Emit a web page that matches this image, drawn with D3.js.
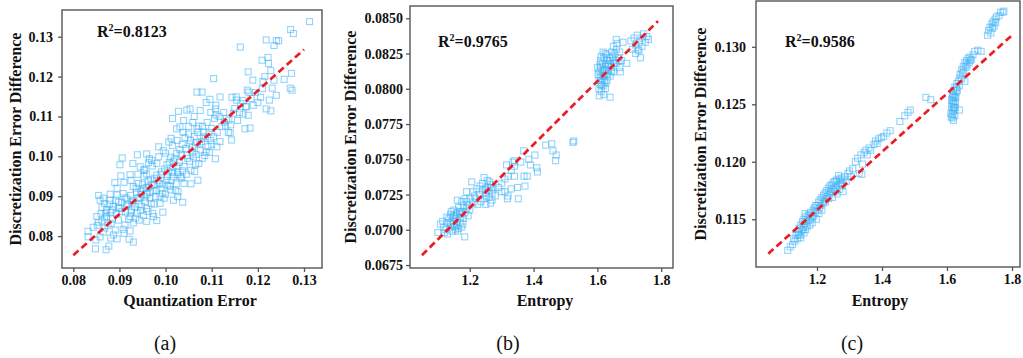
<!DOCTYPE html>
<html>
<head>
<meta charset="utf-8">
<script src="https://cdn.jsdelivr.net/npm/d3@7"></script>
<style>
  body { margin: 0; background: #fff; }
  svg { display: block; }
  svg text { font-family: "Liberation Serif", "DejaVu Serif", serif; fill: #111; }
  .axis path, .axis line { stroke: #555; stroke-width: 1.3; }
  .axis text { font-size: 14px; font-weight: bold; }
  .frame { fill: none; stroke: #555; stroke-width: 1.4; }
  .pt { fill: none; stroke: #3cb0f5; stroke-opacity: 0.55; stroke-width: 1.1; }
  .fit { stroke: #ec1c24; stroke-width: 2.7; stroke-dasharray: 7 4; fill: none; }
</style>
</head>
<body>
<svg id="chart" width="1023" height="358"></svg>
<script>
// panel (a): quantization error vs discretization error difference
const pointsA = [
  [0.1312,0.1338],[0.1271,0.1318],[0.1277,0.1308],[0.1218,0.1292],[0.1240,0.1290],[0.1245,0.1290],
  [0.1235,0.1278],[0.1162,0.1274],[0.1222,0.1248],[0.1223,0.1233],[0.1209,0.1241],[0.1228,0.1215],
  [0.1179,0.1212],[0.1273,0.1208],[0.1257,0.1193],[0.1235,0.1191],[0.1189,0.1191],[0.1104,0.1195],
  [0.1211,0.1188],[0.1270,0.1171],[0.1274,0.1166],[0.1231,0.1171],[0.1177,0.1166],[0.1180,0.1161],
  [0.1068,0.1161],[0.1079,0.1161],[0.1118,0.1149],[0.1144,0.1148],[0.1206,0.1148],[0.1225,0.1141],
  [0.1240,0.1153],[0.1153,0.1149],[0.1096,0.1143],[0.1154,0.1141],[0.1046,0.1116],[0.1053,0.1119],
  [0.1109,0.1128],[0.1163,0.1133],[0.1174,0.1124],[0.1190,0.1128],[0.1218,0.1119],[0.1228,0.1114],
  [0.1028,0.1113],[0.1015,0.1095],[0.1108,0.1119],[0.1109,0.1104],[0.1179,0.1103],[0.1168,0.1106],
  [0.1183,0.1071],[0.1172,0.1069],[0.1147,0.1108],[0.1137,0.1091],[0.1127,0.1086],[0.1130,0.1076],
  [0.1141,0.1079],[0.1140,0.1059],[0.1083,0.1061],[0.1059,0.1085],[0.1072,0.1076],[0.1068,0.1069],
  [0.1031,0.1074],[0.1024,0.1069],[0.1039,0.1090],[0.1082,0.1049],[0.1118,0.1037],[0.1143,0.1041],
  [0.1104,0.1049],[0.1078,0.1037],[0.1042,0.1047],[0.1007,0.1036],[0.1052,0.1031],[0.1092,0.1024],
  [0.1111,0.1024],[0.1085,0.1002],[0.1108,0.0994],[0.1075,0.1016],[0.1068,0.1034],[0.0985,0.1024],
  [0.0995,0.1014],[0.1015,0.1027],[0.1024,0.1007],[0.1031,0.1017],[0.1046,0.1002],[0.1060,0.0999],
  [0.1072,0.0982],[0.1052,0.0988],[0.1011,0.0998],[0.1017,0.0988],[0.0959,0.1006],[0.0939,0.1004],
  [0.0965,0.0994],[0.0981,0.0982],[0.1003,0.0979],[0.1024,0.0976],[0.1037,0.0964],[0.1027,0.0954],
  [0.1033,0.0949],[0.1017,0.0949],[0.1007,0.0961],[0.1063,0.0962],[0.1070,0.0940],[0.0906,0.0996],
  [0.0901,0.0979],[0.0929,0.0982],[0.0903,0.0951],[0.0923,0.0954],[0.0890,0.0934],[0.0953,0.0967],
  [0.0959,0.0956],[0.0971,0.0976],[0.0991,0.0961],[0.0981,0.0953],[0.0968,0.0941],[0.0987,0.0932],
  [0.1005,0.0927],[0.1023,0.0931],[0.1040,0.0932],[0.1055,0.0931],[0.1010,0.0916],[0.1027,0.0911],
  [0.0993,0.0907],[0.0973,0.0913],[0.0941,0.0932],[0.0930,0.0924],[0.0952,0.0919],[0.0959,0.0905],
  [0.0978,0.0899],[0.0997,0.0895],[0.1017,0.0890],[0.1037,0.0885],[0.1026,0.0899],[0.0988,0.0882],
  [0.0994,0.0860],[0.0969,0.0882],[0.0956,0.0887],[0.0945,0.0897],[0.0937,0.0910],[0.0908,0.0907],
  [0.0895,0.0903],[0.0916,0.0893],[0.0898,0.0885],[0.0927,0.0885],[0.0933,0.0874],[0.0946,0.0864],
  [0.0959,0.0869],[0.0972,0.0857],[0.0952,0.0852],[0.0938,0.0857],[0.0923,0.0849],[0.0913,0.0860],
  [0.0901,0.0870],[0.0887,0.0874],[0.0880,0.0890],[0.0872,0.0866],[0.0858,0.0890],[0.0855,0.0902],
  [0.0868,0.0882],[0.0894,0.0857],[0.0885,0.0843],[0.0872,0.0849],[0.0860,0.0856],[0.0851,0.0849],
  [0.0862,0.0838],[0.0852,0.0827],[0.0875,0.0827],[0.0891,0.0815],[0.0908,0.0817],[0.0887,0.0803],
  [0.0881,0.0795],[0.0895,0.0793],[0.0910,0.0807],[0.0923,0.0813],[0.0930,0.0785],[0.0921,0.0792],
  [0.0943,0.0840],[0.0930,0.0833],[0.0959,0.0837],[0.0981,0.0839],[0.0974,0.0849],[0.0832,0.0812],
  [0.0832,0.0798],[0.0849,0.0790],[0.0848,0.0768],[0.0871,0.0766],[0.0877,0.0775],[0.0843,0.0822],
  [0.0865,0.0810],[0.0858,0.0798],[0.0963,0.0984],[0.0945,0.0974],[0.0985,0.0999],[0.0962,0.0921],
  [0.0975,0.0928],[0.0990,0.0920],[0.0948,0.0905],[0.0966,0.0895],[0.1002,0.0940],[0.1015,0.0960],
  [0.1058,0.1010],[0.1088,0.1012],[0.1098,0.1040],[0.1050,0.1056],[0.1036,0.1030],[0.0915,0.0875],
  [0.0905,0.0862],[0.0926,0.0866],[0.0942,0.0880],[0.0880,0.0860],[0.0868,0.0846],[0.0953,0.0950],
  [0.0862,0.0872],[0.0870,0.0858],[0.0878,0.0880],[0.0884,0.0866],[0.0892,0.0890],[0.0898,0.0870],
  [0.0905,0.0885],[0.0912,0.0896],[0.0918,0.0880],[0.0924,0.0902],[0.0930,0.0890],[0.0936,0.0920],
  [0.0940,0.0895],[0.0946,0.0912],[0.0950,0.0930],[0.0955,0.0898],[0.0958,0.0922],[0.0962,0.0938],
  [0.0966,0.0910],[0.0970,0.0930],[0.0976,0.0945],[0.0980,0.0915],[0.0984,0.0940],[0.0990,0.0955],
  [0.0994,0.0930],[0.0998,0.0968],[0.1004,0.0950],[0.1008,0.0985],[0.1012,0.0940],[0.1016,0.0972],
  [0.1020,0.0995],[0.1026,0.0960],[0.1030,0.0985],[0.1034,0.1005],[0.1040,0.0975],[0.1044,0.1020],
  [0.1048,0.0995],[0.1054,0.1040],[0.1058,0.1022],[0.1062,0.1050],[0.1066,0.1005],[0.1070,0.1060],
  [0.1074,0.1030],[0.1080,0.1075],[0.1086,0.1045],[0.1090,0.1085],[0.1094,0.1060],[0.1100,0.1070],
  [0.1106,0.1095],[0.1112,0.1060],[0.1116,0.1100],[0.1122,0.1075],[0.1126,0.1110],[0.1132,0.1095],
  [0.1136,0.1060],[0.1150,0.1120],[0.1156,0.1090],[0.1160,0.1110],[0.1168,0.1140],[0.1175,0.1125],
  [0.1185,0.1145],[0.1195,0.1160],[0.1200,0.1135],[0.1210,0.1170],[0.1215,0.1200],[0.0865,0.0895],
  [0.0880,0.0905],[0.0895,0.0920],[0.0910,0.0935],[0.0925,0.0940],[0.0940,0.0955],[0.0955,0.0965],
  [0.0970,0.0990],[0.0925,0.0860],[0.0935,0.0845],[0.0948,0.0875],[0.0962,0.0862],[0.0975,0.0880],
  [0.0988,0.0900],[0.1000,0.0905],[0.1010,0.0925],[0.1022,0.0915],[0.1035,0.0945],[0.1045,0.0955],
  [0.1055,0.0965],[0.1065,0.0980],[0.1080,0.0995],[0.1095,0.1010],[0.1100,0.1030],[0.1000,0.1008],
  [0.1012,0.1045],[0.1025,0.1040],[0.1038,0.1060],[0.1050,0.1075],[0.1062,0.1100],[0.1075,0.1115],
  [0.1088,0.1135],[0.1098,0.1110],[0.0855,0.0835],[0.0868,0.0820],[0.0882,0.0832],[0.0898,0.0840],
  [0.0912,0.0828],[0.0920,0.0842]
];
const fitA = [[0.080, 0.0752], [0.130, 0.1268]];

// panel (b): entropy vs discretization error difference
const pointsB = [
  [1.100,0.0698],[1.108,0.0704],[1.118,0.0702],[1.115,0.0706],[1.125,0.0700],[1.130,0.0697],
  [1.130,0.0705],[1.135,0.0708],[1.140,0.0702],[1.140,0.0711],[1.145,0.0699],[1.145,0.0706],
  [1.150,0.0704],[1.150,0.0710],[1.150,0.0714],[1.155,0.0700],[1.155,0.0708],[1.160,0.0703],
  [1.160,0.0712],[1.160,0.0706],[1.165,0.0716],[1.165,0.0701],[1.170,0.0709],[1.170,0.0705],
  [1.175,0.0713],[1.175,0.0702],[1.180,0.0708],[1.180,0.0717],[1.185,0.0712],[1.184,0.0695],
  [1.190,0.0715],[1.190,0.0720],[1.195,0.0710],[1.200,0.0722],[1.200,0.0714],[1.210,0.0727],
  [1.210,0.0719],[1.215,0.0724],[1.220,0.0722],[1.225,0.0718],[1.230,0.0725],[1.235,0.0720],
  [1.240,0.0728],[1.240,0.0733],[1.245,0.0722],[1.245,0.0737],[1.250,0.0726],[1.250,0.0718],
  [1.255,0.0730],[1.255,0.0735],[1.260,0.0723],[1.260,0.0728],[1.265,0.0719],[1.265,0.0732],
  [1.270,0.0726],[1.270,0.0721],[1.275,0.0729],[1.280,0.0724],[1.206,0.0734],[1.185,0.0722],
  [1.175,0.0720],[1.190,0.0727],[1.161,0.0721],[1.222,0.0729],[1.140,0.0705],[1.148,0.0709],
  [1.158,0.0711],[1.168,0.0713],[1.152,0.0702],[1.162,0.0699],[1.172,0.0711],[1.142,0.0713],
  [1.128,0.0709],[1.120,0.0698],[1.178,0.0704],[1.195,0.0717],[1.232,0.0731],[1.252,0.0724],
  [1.262,0.0734],[1.248,0.0729],[1.268,0.0730],
  [1.290,0.0730],[1.300,0.0733],[1.300,0.0727],[1.310,0.0736],[1.320,0.0738],[1.320,0.0724],
  [1.318,0.0722],[1.330,0.0742],[1.330,0.0729],[1.340,0.0745],[1.340,0.0749],[1.350,0.0730],
  [1.352,0.0722],[1.360,0.0748],[1.370,0.0738],[1.369,0.0756],[1.380,0.0738],[1.373,0.0731],
  [1.385,0.0750],[1.390,0.0746],[1.404,0.0753],[1.410,0.0744],[1.412,0.0741],[1.315,0.0746],
  [1.335,0.0748],[1.340,0.0738],[1.310,0.0727],
  [1.438,0.0760],[1.457,0.0761],[1.461,0.0756],[1.471,0.0753],[1.469,0.0749],[1.526,0.0763],[1.523,0.0762],
  [1.605,0.0800],[1.605,0.0806],[1.605,0.0812],[1.610,0.0803],[1.610,0.0809],[1.610,0.0815],
  [1.610,0.0820],[1.612,0.0798],[1.615,0.0806],[1.615,0.0812],[1.615,0.0818],[1.618,0.0802],
  [1.620,0.0796],[1.620,0.0809],[1.620,0.0814],[1.620,0.0822],[1.622,0.0805],[1.625,0.0800],
  [1.625,0.0817],[1.628,0.0811],[1.630,0.0806],[1.630,0.0820],[1.630,0.0824],[1.635,0.0813],
  [1.635,0.0818],[1.640,0.0794],[1.640,0.0809],[1.640,0.0822],[1.645,0.0826],[1.645,0.0815],
  [1.650,0.0830],[1.650,0.0820],[1.650,0.0812],[1.659,0.0835],[1.655,0.0825],[1.660,0.0818],
  [1.660,0.0828],[1.665,0.0822],[1.670,0.0815],[1.670,0.0826],[1.672,0.0812],[1.675,0.0820],
  [1.680,0.0833],[1.692,0.0818],[1.600,0.0815],[1.602,0.0810],[1.608,0.0817],[1.613,0.0803],
  [1.617,0.0809],[1.623,0.0813],[1.627,0.0804],[1.632,0.0816],[1.638,0.0820],[1.642,0.0817],
  [1.648,0.0823],[1.653,0.0818],[1.612,0.0823],[1.618,0.0826],[1.625,0.0825],[1.662,0.0832],
  [1.668,0.0820],[1.632,0.0810],[1.644,0.0812],[1.606,0.0795],
  [1.705,0.0834],[1.710,0.0828],[1.715,0.0836],[1.720,0.0825],[1.720,0.0831],[1.725,0.0838],
  [1.730,0.0833],[1.730,0.0827],[1.735,0.0822],[1.740,0.0836],[1.740,0.0830],[1.745,0.0839],
  [1.750,0.0833],[1.755,0.0837],[1.760,0.0835],[1.727,0.0828]
];
const fitB = [[1.05, 0.0682], [1.79, 0.0848]];

// panel (c): entropy vs discretization error difference
const pointsC = [
  [1.110,0.1123],[1.118,0.1126],[1.125,0.1128],[1.132,0.1131],[1.135,0.1136],[1.140,0.1133],
  [1.142,0.1139],[1.145,0.1142],[1.148,0.1136],[1.150,0.1145],[1.152,0.1140],[1.155,0.1148],
  [1.158,0.1143],[1.160,0.1150],[1.162,0.1146],[1.165,0.1141],[1.165,0.1152],[1.168,0.1148],
  [1.170,0.1144],[1.172,0.1153],[1.175,0.1149],[1.178,0.1145],[1.180,0.1156],[1.182,0.1151],
  [1.185,0.1147],[1.188,0.1158],[1.190,0.1153],[1.192,0.1160],[1.195,0.1156],[1.198,0.1150],
  [1.200,0.1162],[1.202,0.1158],[1.205,0.1165],[1.208,0.1160],[1.210,0.1167],[1.212,0.1162],
  [1.215,0.1169],[1.215,0.1158],[1.220,0.1171],[1.222,0.1166],[1.225,0.1173],[1.228,0.1168],
  [1.230,0.1175],[1.232,0.1170],[1.235,0.1177],[1.238,0.1172],[1.240,0.1179],[1.242,0.1174],
  [1.245,0.1180],[1.248,0.1169],[1.250,0.1182],[1.252,0.1176],[1.255,0.1183],[1.258,0.1178],
  [1.260,0.1184],[1.262,0.1172],[1.265,0.1180],[1.268,0.1185],[1.270,0.1176],[1.272,0.1182],
  [1.275,0.1186],[1.278,0.1179],[1.280,0.1184],[1.285,0.1187],[1.290,0.1183],[1.295,0.1190],
  [1.280,0.1174],[1.144,0.1137],[1.156,0.1141],[1.163,0.1155],[1.176,0.1154],[1.186,0.1152],
  [1.196,0.1162],[1.206,0.1155],[1.218,0.1164],[1.226,0.1165],[1.236,0.1168],[1.246,0.1176],
  [1.256,0.1174],[1.266,0.1188],[1.276,0.1181],[1.150,0.1134],[1.160,0.1138],[1.128,0.1133],
  [1.300,0.1192],[1.305,0.1187],[1.310,0.1194],[1.318,0.1200],[1.325,0.1203],[1.330,0.1190],
  [1.338,0.1189],[1.335,0.1206],[1.340,0.1198],[1.345,0.1208],[1.350,0.1210],[1.355,0.1206],
  [1.360,0.1212],[1.365,0.1210],[1.375,0.1215],[1.380,0.1218],[1.385,0.1216],[1.390,0.1220],
  [1.398,0.1221],[1.405,0.1222],[1.415,0.1225],[1.425,0.1227],[1.455,0.1235],[1.470,0.1240],
  [1.480,0.1243],[1.487,0.1245],[1.535,0.1256],[1.550,0.1254],
  [1.612,0.1242],[1.614,0.1248],[1.614,0.1254],[1.616,0.1238],[1.616,0.1245],[1.616,0.1251],
  [1.618,0.1258],[1.618,0.1241],[1.620,0.1236],[1.620,0.1247],[1.620,0.1253],[1.620,0.1262],
  [1.622,0.1244],[1.622,0.1250],[1.624,0.1240],[1.624,0.1256],[1.624,0.1265],[1.626,0.1247],
  [1.626,0.1252],[1.628,0.1260],[1.630,0.1268],[1.638,0.1245],[1.632,0.1262],[1.635,0.1270],
  [1.638,0.1266],[1.640,0.1273],[1.613,0.1239],[1.617,0.1256],[1.621,0.1258],[1.623,0.1247],
  [1.627,0.1256],[1.629,0.1264],
  [1.640,0.1276],[1.645,0.1272],[1.645,0.1280],[1.648,0.1277],[1.650,0.1283],[1.652,0.1279],
  [1.655,0.1286],[1.658,0.1282],[1.660,0.1288],[1.662,0.1284],[1.665,0.1290],[1.668,0.1286],
  [1.670,0.1291],[1.672,0.1288],[1.675,0.1289],[1.680,0.1293],[1.685,0.1296],[1.695,0.1297],
  [1.705,0.1296],[1.655,0.1270],
  [1.725,0.1310],[1.728,0.1314],[1.732,0.1317],[1.735,0.1312],[1.738,0.1320],[1.740,0.1316],
  [1.742,0.1322],[1.745,0.1318],[1.748,0.1324],[1.750,0.1321],[1.752,0.1326],[1.760,0.1327],
  [1.765,0.1330],[1.772,0.1330],[1.775,0.1331]
];
const fitC = [[1.05, 0.1120], [1.80, 0.1310]];

const ticksXA = [0.08, 0.09, 0.10, 0.11, 0.12, 0.13];
const ticksYA = [0.08, 0.09, 0.10, 0.11, 0.12, 0.13];
const ticksXB = [1.2, 1.4, 1.6, 1.8];
const ticksYB = [0.0675, 0.0700, 0.0725, 0.0750, 0.0775, 0.0800, 0.0825, 0.0850];
const ticksXC = [1.2, 1.4, 1.6, 1.8];
const ticksYC = [0.115, 0.120, 0.125, 0.130];

const r2Values = ['0.8123', '0.9765', '0.9586'];
const xTitles = ['Quantization Error', 'Entropy', 'Entropy'];
const captions = ['(a)', '(b)', '(c)'];
const yTitle = 'Discretization Error Difference';

const svg = d3.select('#chart');

const panels = [
  {box: [62, 322, 10, 268], xd: [0.07755, 0.1339], yd: [0.0720, 0.1367], xt: ticksXA, yt: ticksYA,
   xf: '.2f', yf: '.2f', pts: pointsA, fit: fitA, r2: [97, 37], yLab: 15, xLab: 190, cap: 165, pad: 5},
  {box: [410, 673, 6, 268], xd: [1.0126, 1.837], yd: [0.06729, 0.08587], xt: ticksXB, yt: ticksYB,
   xf: '.1f', yf: '.4f', pts: pointsB, fit: fitB, r2: [438, 47], yLab: 350, xLab: 545, cap: 508, pad: 3},
  {box: [756, 1020, 1, 267], xd: [1.0123, 1.8246], yd: [0.11085, 0.13398], xt: ticksXC, yt: ticksYC,
   xf: '.1f', yf: '.3f', pts: pointsC, fit: fitC, r2: [785, 47], yLab: 700, xLab: 880, cap: 852, pad: 6}
];

panels.forEach((p, i) => {
  const [l, r, t, b] = p.box;
  const x = d3.scaleLinear().domain(p.xd).range([l, r]);
  const y = d3.scaleLinear().domain(p.yd).range([b, t]);
  const g = svg.append('g');

  g.append('g')
    .attr('class', 'axis')
    .attr('transform', 'translate(0,' + b + ')')
    .call(d3.axisBottom(x).tickValues(p.xt).tickFormat(d3.format(p.xf)).tickSize(4).tickPadding(3).tickSizeOuter(0));

  g.append('g')
    .attr('class', 'axis')
    .attr('transform', 'translate(' + l + ',0)')
    .call(d3.axisLeft(y).tickValues(p.yt).tickFormat(d3.format(p.yf)).tickSize(4).tickPadding(p.pad).tickSizeOuter(0));

  g.selectAll('.axis').attr('font-family', null).attr('font-size', null);
  g.selectAll('.domain').remove();

  g.append('rect')
    .attr('class', 'frame')
    .attr('x', l).attr('y', t)
    .attr('width', r - l).attr('height', b - t);

  const s = 6;
  g.append('g')
    .selectAll('rect')
    .data(p.pts)
    .join('rect')
    .attr('class', 'pt')
    .attr('x', d => x(d[0]) - s / 2)
    .attr('y', d => y(d[1]) - s / 2)
    .attr('width', s)
    .attr('height', s);

  g.append('path')
    .attr('class', 'fit')
    .attr('d', d3.line().x(d => x(d[0])).y(d => y(d[1]))(p.fit));

  const r2 = g.append('text')
    .attr('x', p.r2[0]).attr('y', p.r2[1])
    .style('font-size', '16px').style('font-weight', 'bold');
  r2.append('tspan').text('R');
  r2.append('tspan').attr('dy', -6).style('font-size', '10px').text('2');
  r2.append('tspan').attr('dy', 6).text('=' + r2Values[i]);

  g.append('text')
    .attr('transform', 'translate(' + p.yLab + ',' + ((t + b) / 2) + ') rotate(-90)')
    .attr('text-anchor', 'middle')
    .attr('dy', '0.35em')
    .style('font-size', '16px').style('font-weight', 'bold')
    .text(yTitle);

  g.append('text')
    .attr('x', p.xLab).attr('y', 306)
    .attr('text-anchor', 'middle')
    .style('font-size', '16px').style('font-weight', 'bold')
    .text(xTitles[i]);

  g.append('text')
    .attr('x', p.cap).attr('y', 350)
    .attr('text-anchor', 'middle')
    .style('font-size', '20px')
    .text(captions[i]);
});
</script>
</body>
</html>
